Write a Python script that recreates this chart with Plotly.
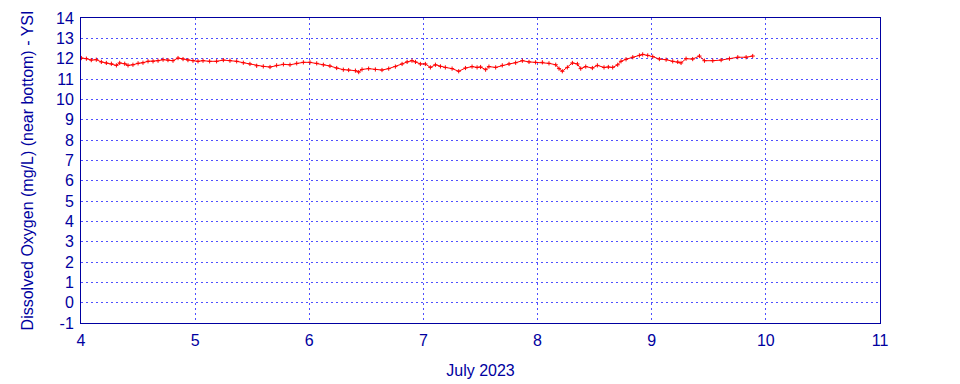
import plotly.graph_objects as go

days = [4.003, 4.047, 4.09, 4.134, 4.178, 4.222, 4.266, 4.31, 4.339, 4.383, 4.412, 4.455, 4.50, 4.543,
        4.587, 4.631, 4.675, 4.719, 4.762, 4.806, 4.85, 4.894, 4.937, 4.981, 5.025, 5.069, 5.127,
        5.188, 5.247, 5.305, 5.364, 5.422, 5.48, 5.539, 5.597, 5.656, 5.714, 5.773, 5.831, 5.89,
        5.948, 6.006, 6.065, 6.123, 6.181, 6.24, 6.298, 6.345, 6.404, 6.433, 6.462, 6.52, 6.579,
        6.637, 6.696, 6.754, 6.813, 6.857, 6.9, 6.93, 6.973, 7.017, 7.061, 7.105, 7.149, 7.192,
        7.251, 7.309, 7.368, 7.426, 7.47, 7.501, 7.545, 7.574, 7.633, 7.691, 7.75, 7.808, 7.867,
        7.925, 7.983, 8.042, 8.1, 8.159, 8.188, 8.217, 8.261, 8.305, 8.349, 8.378, 8.422, 8.48,
        8.524, 8.582, 8.62, 8.658, 8.702, 8.731, 8.775, 8.834, 8.892, 8.921, 8.965, 9.009, 9.067,
        9.126, 9.184, 9.228, 9.257, 9.301, 9.359, 9.418, 9.462, 9.535, 9.608, 9.681, 9.754, 9.827,
        9.885]
oxygen = [12.03, 12.00, 11.93, 11.95, 11.84, 11.79, 11.75, 11.67, 11.79, 11.75, 11.67, 11.70, 11.77, 11.80,
          11.87, 11.87, 11.90, 11.95, 11.93, 11.90, 12.03, 11.98, 11.93, 11.90, 11.87, 11.90, 11.87,
          11.87, 11.93, 11.90, 11.87, 11.80, 11.74, 11.65, 11.62, 11.59, 11.67, 11.72, 11.70, 11.77,
          11.82, 11.82, 11.77, 11.70, 11.64, 11.54, 11.46, 11.44, 11.41, 11.34, 11.47, 11.51, 11.47,
          11.44, 11.51, 11.61, 11.74, 11.84, 11.90, 11.84, 11.74, 11.74, 11.57, 11.70, 11.62, 11.57,
          11.51, 11.38, 11.54, 11.61, 11.57, 11.59, 11.46, 11.61, 11.57, 11.67, 11.74, 11.80, 11.90,
          11.84, 11.82, 11.82, 11.77, 11.70, 11.51, 11.38, 11.57, 11.79, 11.74, 11.51, 11.61, 11.54,
          11.67, 11.57, 11.59, 11.57, 11.70, 11.87, 11.97, 12.07, 12.16, 12.21, 12.16, 12.10, 11.98,
          11.95, 11.87, 11.84, 11.79, 12.00, 11.98, 12.13, 11.90, 11.90, 11.93, 12.00, 12.07, 12.07,
          12.13]

x_ticks = [4, 5, 6, 7, 8, 9, 10, 11]
y_ticks = list(range(-1, 15))

blue = "#0000a0"
grid = "#5050ff"
fig = go.Figure(go.Scatter(
    x=days, y=oxygen, mode="lines+markers",
    line=dict(color="#ff0000", width=1),
    marker=dict(symbol="cross-thin", size=3, line=dict(color="#ff0000", width=1)),
))
fig.update_layout(
    width=960, height=384,
    margin=dict(l=73, r=88, t=10, b=69),
    paper_bgcolor="white", plot_bgcolor="white",
    showlegend=False,
    font=dict(family="Liberation Sans, Arial, sans-serif", color=blue),
)
fig.update_xaxes(
    range=[4, 11], tickvals=x_ticks, ticktext=[str(t) for t in x_ticks],
    showgrid=True, gridcolor=grid, griddash="2px,3px", gridwidth=1,
    showline=True, linecolor=blue, linewidth=1, mirror=True, zeroline=False,
    ticks="", tickfont=dict(size=16, color=blue), automargin=False, ticklabelstandoff=3,
    title=dict(text="July 2023", font=dict(size=16, color=blue), standoff=16),
)
fig.update_yaxes(
    range=[-1, 14], tickvals=y_ticks, ticktext=[str(t) for t in y_ticks],
    showgrid=True, gridcolor=grid, griddash="2px,3px", gridwidth=1,
    showline=True, linecolor=blue, linewidth=1, mirror=True, zeroline=False,
    ticks="", tickfont=dict(size=16, color=blue), automargin=False, ticklabelstandoff=3,
    title=dict(text="Dissolved Oxygen (mg/L) (near bottom) - YSI", font=dict(size=16, color=blue), standoff=18),
)
fig.write_html("out.html")
